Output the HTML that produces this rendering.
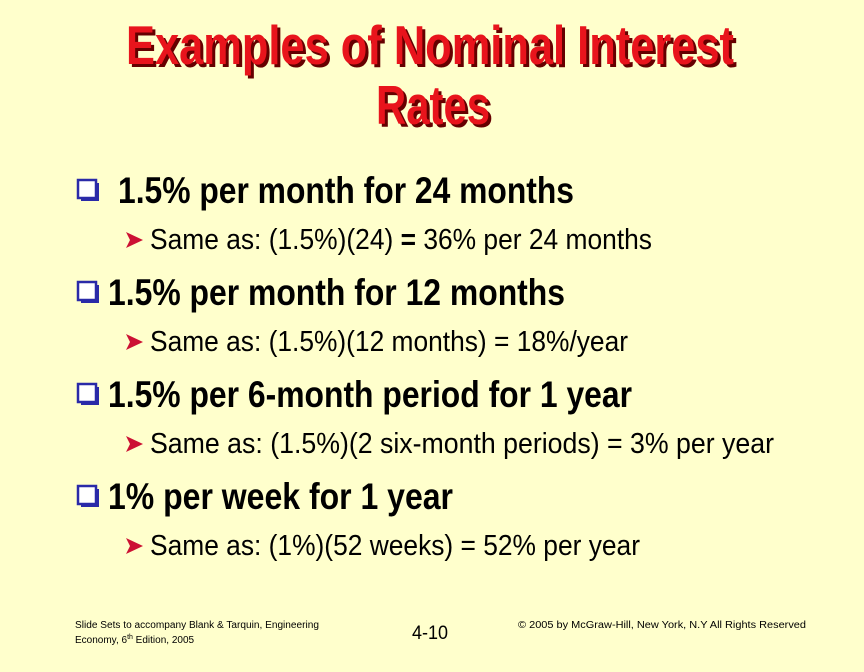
<!DOCTYPE html>
<html><head><meta charset="utf-8"><style>
html,body{margin:0;padding:0;background:#FFFFCC;}
svg{display:block;font-family:"Liberation Sans",Arial,sans-serif;}
</style></head><body>
<svg width="864" height="672" viewBox="0 0 864 672">
<rect width="864" height="672" fill="#FFFFCC"/>
<defs>
<g id="box"><rect x="3" y="3" width="18" height="18" fill="#2a2aa8"/><rect x="0" y="0" width="18" height="18" fill="#ffffff" stroke="#2a2aa8" stroke-width="2.5"/></g>
<g id="arrow"><polygon points="0,0 17,8 0,16 4,8" fill="#cc1133"/></g>
</defs>
<g font-weight="bold" font-size="55">
<text x="433" y="67" text-anchor="middle" fill="#660000" textLength="608" lengthAdjust="spacingAndGlyphs">Examples of Nominal Interest</text>
<text x="430" y="64" text-anchor="middle" fill="#e8141c" textLength="608" lengthAdjust="spacingAndGlyphs">Examples of Nominal Interest</text>
<text x="436" y="127" text-anchor="middle" fill="#660000" textLength="114" lengthAdjust="spacingAndGlyphs">Rates</text>
<text x="433" y="124" text-anchor="middle" fill="#e8141c" textLength="114" lengthAdjust="spacingAndGlyphs">Rates</text>
</g>
<g>
<use href="#box" x="78" y="180"/>
<text x="118" y="203" font-size="37" font-weight="bold" textLength="456" lengthAdjust="spacingAndGlyphs">1.5% per month for 24 months</text>
<use href="#arrow" x="126" y="232"/>
<text x="150" y="249" font-size="29" textLength="502" lengthAdjust="spacingAndGlyphs">Same as: (1.5%)(24) <tspan font-weight="bold">=</tspan> 36% per 24 months</text>
</g>
<g>
<use href="#box" x="78" y="282"/>
<text x="108" y="305" font-size="37" font-weight="bold" textLength="457" lengthAdjust="spacingAndGlyphs">1.5% per month for 12 months</text>
<use href="#arrow" x="126" y="334"/>
<text x="150" y="351" font-size="29" textLength="478" lengthAdjust="spacingAndGlyphs">Same as: (1.5%)(12 months) = 18%/year</text>
</g>
<g>
<use href="#box" x="78" y="384"/>
<text x="108" y="407" font-size="37" font-weight="bold" textLength="524" lengthAdjust="spacingAndGlyphs">1.5% per 6-month period for 1 year</text>
<use href="#arrow" x="126" y="436"/>
<text x="150" y="453" font-size="29" textLength="624" lengthAdjust="spacingAndGlyphs">Same as: (1.5%)(2  six-month periods) = 3% per year</text>
</g>
<g>
<use href="#box" x="78" y="486"/>
<text x="108" y="509" font-size="37" font-weight="bold" textLength="345" lengthAdjust="spacingAndGlyphs">1% per week for 1 year</text>
<use href="#arrow" x="126" y="538"/>
<text x="150" y="555" font-size="29" textLength="490" lengthAdjust="spacingAndGlyphs">Same as: (1%)(52 weeks) = 52% per year</text>
</g>
<g font-size="10">
<text x="75" y="628" textLength="244" lengthAdjust="spacingAndGlyphs">Slide Sets  to accompany Blank &amp; Tarquin, Engineering</text>
<text x="75" y="643">Economy, 6<tspan font-size="7" dy="-4">th</tspan><tspan dy="4"> Edition, 2005</tspan></text>
<text x="430" y="639" font-size="19" text-anchor="middle" textLength="36" lengthAdjust="spacingAndGlyphs">4-10</text>
<text x="518" y="628" textLength="288" lengthAdjust="spacingAndGlyphs">© 2005 by McGraw-Hill, New York, N.Y All Rights Reserved</text>
</g>
</svg>
</body></html>
